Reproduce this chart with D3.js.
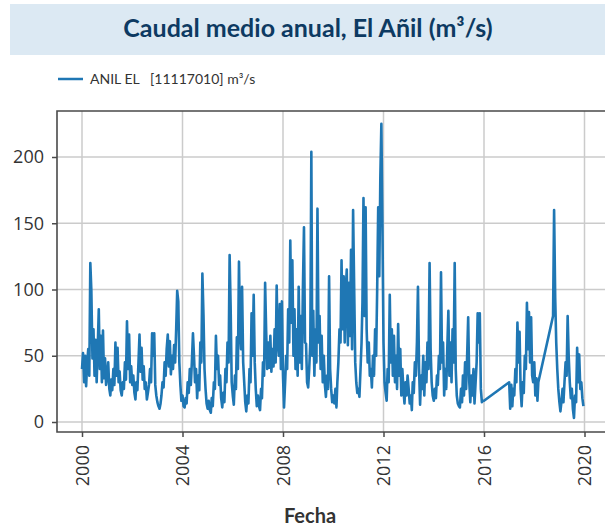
<!DOCTYPE html>
<html>
<head>
<meta charset="utf-8">
<script src="https://cdn.jsdelivr.net/npm/d3@7"></script>
<style>
  html, body { margin: 0; padding: 0; background: #fff; }
  svg { display: block; }
</style>
</head>
<body>
<div id="chart"></div>
<script>
  // semi-monthly readings (m³/s), index 0 = 1 Jan, 1 = 16 Jan, 2 = 1 Feb ...
  const q2000 = [40, 52, 30, 50, 27, 45, 55, 35, 120, 99, 48, 70, 35, 62, 30, 55, 85, 40, 65, 30, 69, 33, 48, 28];
  const q2001 = [35, 45, 25, 20, 32, 24, 40, 28, 60, 35, 56, 30, 38, 24, 20, 30, 25, 45, 32, 76, 40, 66, 30, 42];
  const q2002 = [28, 35, 22, 17, 30, 24, 45, 66, 38, 56, 32, 42, 25, 30, 17, 22, 28, 40, 30, 67, 50, 67, 28, 20];
  const q2003 = [15, 12, 10, 14, 20, 30, 26, 45, 35, 55, 66, 42, 61, 36, 50, 40, 58, 45, 70, 99, 91, 45, 28, 16];
  const q2004 = [20, 12, 11, 18, 14, 30, 22, 40, 28, 45, 67, 50, 30, 40, 18, 35, 24, 60, 45, 112, 81, 40, 25, 14];
  const q2005 = [10, 16, 9, 7, 18, 12, 30, 25, 65, 40, 50, 28, 35, 18, 11, 22, 15, 40, 30, 60, 45, 126, 86, 30];
  const q2006 = [20, 13, 35, 25, 64, 40, 121, 70, 55, 102, 45, 30, 15, 8, 20, 14, 40, 30, 82, 50, 96, 45, 25, 12];
  const q2007 = [20, 12, 9, 25, 18, 45, 35, 105, 69, 40, 60, 41, 65, 38, 55, 42, 70, 45, 103, 60, 50, 89, 40, 91];
  const q2008 = [35, 11, 30, 50, 40, 85, 60, 137, 75, 122, 50, 85, 40, 70, 35, 102, 45, 80, 40, 100, 147, 60, 59, 30];
  const q2009 = [26, 40, 60, 204, 50, 84, 35, 70, 45, 161, 60, 80, 40, 65, 30, 50, 28, 19, 35, 25, 110, 40, 25, 15];
  const q2010 = [20, 14, 25, 11, 30, 45, 70, 60, 122, 70, 110, 60, 100, 115, 58, 105, 65, 130, 55, 160, 100, 45, 30, 22];
  const q2011 = [25, 19, 40, 60, 90, 169, 80, 162, 70, 45, 60, 35, 40, 26, 50, 35, 70, 50, 100, 162, 110, 185, 225, 150];
  const q2012 = [60, 30, 22, 16, 40, 30, 96, 45, 70, 35, 65, 30, 50, 25, 74, 35, 55, 20, 40, 25, 14, 30, 20, 35];
  const q2013 = [25, 14, 20, 9, 30, 22, 45, 35, 60, 102, 40, 13, 35, 25, 50, 20, 45, 30, 60, 40, 120, 55, 30, 20];
  const q2014 = [16, 25, 18, 35, 28, 50, 40, 113, 45, 60, 20, 40, 25, 55, 84, 35, 60, 30, 70, 45, 120, 40, 20, 14];
  const q2015 = [12, 11, 25, 15, 35, 20, 45, 25, 50, 79, 30, 15, 35, 20, 40, 14, 30, 45, 82, 60, 82, 25, 15, 16];
  const q2016 = [16];
  const q2017 = [30, 10, 28, 12, 25, 20, 40, 30, 75, 45, 68, 25, 12, 30, 22, 50, 40, 90, 55, 83, 45, 79, 35, 30];
  const q2018a = [45, 20, 33, 16, 30];
  const q2018b = [80, 160, 94, 60, 40, 25];
  const q2019 = [15, 8, 16, 25, 15, 30, 45, 35, 80, 50, 30, 18, 25, 10, 3, 20, 15, 56, 30, 51, 25, 30, 18, 12];

  // gaps in the record: the line is drawn straight across them
  const segments = [
    { year: 2000, first: 0, values: q2000 },
    { year: 2001, first: 0, values: q2001 },
    { year: 2002, first: 0, values: q2002 },
    { year: 2003, first: 0, values: q2003 },
    { year: 2004, first: 0, values: q2004 },
    { year: 2005, first: 0, values: q2005 },
    { year: 2006, first: 0, values: q2006 },
    { year: 2007, first: 0, values: q2007 },
    { year: 2008, first: 0, values: q2008 },
    { year: 2009, first: 0, values: q2009 },
    { year: 2010, first: 0, values: q2010 },
    { year: 2011, first: 0, values: q2011 },
    { year: 2012, first: 0, values: q2012 },
    { year: 2013, first: 0, values: q2013 },
    { year: 2014, first: 0, values: q2014 },
    { year: 2015, first: 0, values: q2015 },
    { year: 2016, first: 0, values: q2016 },
    { year: 2017, first: 0, values: q2017 },
    { year: 2018, first: 0, values: q2018a },
    { year: 2018, first: 18, values: q2018b },
    { year: 2019, first: 0, values: q2019 }
  ];

  const yTicks = [0, 50, 100, 150, 200];
  const xTickYears = [2000, 2004, 2008, 2012, 2016, 2020];

  const titleText = "Caudal medio anual, El Añil (m³/s)";
  const legendText = "ANIL EL   [11117010] m³/s";
  const xLabel = "Fecha";

  (function () {
    "use strict";

    const WIDTH = 605;
    const HEIGHT = 528;
    const LINE_COLOR = "#1f77b4";
    const GRID_COLOR = "#cbcbcb";
    const FRAME_COLOR = "#4a4a4a";
    const TEXT_COLOR = "#333";

    const plot = { left: 57, top: 111, right: 612, bottom: 432 };

    function halfMonthDate(year, index) {
      return new Date(year, Math.floor(index / 2), index % 2 === 0 ? 1 : 16);
    }

    const points = segments.flatMap((s) =>
      s.values.map((v, i) => ({ date: halfMonthDate(s.year, s.first + i), value: v }))
    );

    const svg = d3
      .select("#chart")
      .append("svg")
      .attr("width", WIDTH)
      .attr("height", HEIGHT)
      .attr("viewBox", `0 0 ${WIDTH} ${HEIGHT}`);

    // title banner
    svg.append("rect")
      .attr("x", 10).attr("y", 4)
      .attr("width", WIDTH - 10).attr("height", 51)
      .attr("fill", "#dce9f3");

    svg.append("text")
      .attr("x", 308).attr("y", 37)
      .attr("text-anchor", "middle")
      .attr("font-family", "Lato, 'Open Sans', sans-serif")
      .attr("font-weight", "bold")
      .attr("font-size", 25)
      .attr("fill", "#0d3a62")
      .text(titleText);

    // legend
    svg.append("line")
      .attr("x1", 58).attr("x2", 83)
      .attr("y1", 79).attr("y2", 79)
      .attr("stroke", LINE_COLOR)
      .attr("stroke-width", 2.5);

    svg.append("text")
      .attr("x", 90).attr("y", 84)
      .attr("font-family", "Lato, 'Open Sans', sans-serif")
      .attr("font-size", 14)
      .attr("fill", TEXT_COLOR)
      .style("white-space", "pre")
      .text(legendText);

    const x = d3
      .scaleTime()
      .domain([new Date(2000, 0, 1), new Date(2020, 0, 1)])
      .range([82, 584.5]);

    const y = d3.scaleLinear().domain([0, 200]).range([422, 157]);

    const xTickDates = xTickYears.map((yr) => new Date(yr, 0, 1));

    // grid
    const grid = svg.append("g").attr("stroke", GRID_COLOR).attr("stroke-width", 1.5);
    grid.selectAll(".gx")
      .data(xTickDates)
      .join("line")
      .attr("x1", (d) => x(d)).attr("x2", (d) => x(d))
      .attr("y1", plot.top).attr("y2", plot.bottom);
    grid.selectAll(".gy")
      .data(yTicks)
      .join("line")
      .attr("x1", plot.left).attr("x2", plot.right)
      .attr("y1", (d) => y(d)).attr("y2", (d) => y(d));

    // series
    const line = d3
      .line()
      .x((d) => x(d.date))
      .y((d) => y(d.value));

    svg.append("path")
      .datum(points)
      .attr("fill", "none")
      .attr("stroke", LINE_COLOR)
      .attr("stroke-width", 2.6)
      .attr("stroke-linejoin", "round")
      .attr("d", line);

    // frame (no right side visible)
    svg.append("path")
      .attr("d", `M${plot.right},${plot.top}H${plot.left}V${plot.bottom}H${plot.right}`)
      .attr("fill", "none")
      .attr("stroke", FRAME_COLOR)
      .attr("stroke-width", 1.6);

    // axes
    const yAxis = svg.append("g")
      .attr("transform", `translate(${plot.left},0)`)
      .call(d3.axisLeft(y).tickValues(yTicks).tickSize(5).tickPadding(8));

    const xAxis = svg.append("g")
      .attr("transform", `translate(0,${plot.bottom})`)
      .call(
        d3.axisBottom(x)
          .tickValues(xTickDates)
          .tickFormat(d3.timeFormat("%Y"))
          .tickSize(5)
      );

    [yAxis, xAxis].forEach((g) => {
      g.select(".domain").remove();
      g.selectAll(".tick line").attr("stroke", FRAME_COLOR).attr("stroke-width", 1.5);
      g.selectAll(".tick text")
        .attr("fill", TEXT_COLOR)
        .attr("font-family", "'Open Sans', sans-serif")
        .attr("font-size", 18);
    });

    xAxis.selectAll(".tick text")
      .attr("transform", "rotate(-90)")
      .attr("text-anchor", "end")
      .attr("x", -13)
      .attr("y", 0)
      .attr("dy", "0.35em");

    svg.append("text")
      .attr("x", 310).attr("y", 523)
      .attr("text-anchor", "middle")
      .attr("font-family", "Lato, 'Open Sans', sans-serif")
      .attr("font-weight", "bold")
      .attr("font-size", 20)
      .attr("fill", TEXT_COLOR)
      .text(xLabel);
  })();
</script>
</body>
</html>
